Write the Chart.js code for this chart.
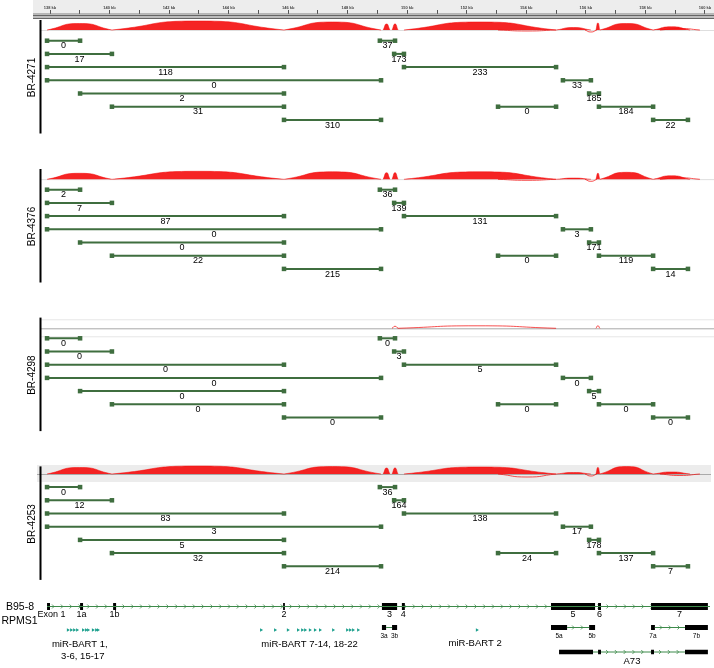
<!DOCTYPE html>
<html>
<head>
<meta charset="utf-8">
<title>BART splice junctions</title>
<script src="https://cdn.jsdelivr.net/npm/chart.js@4.4.1/dist/chart.umd.min.js"></script>
<style>
  html, body { margin: 0; padding: 0; background: #fff; }
  #wrap { width: 714px; height: 668px; position: relative; }
</style>
</head>
<body>
<div id="wrap"><canvas id="chart"></canvas></div>
<script>
(function () {
    'use strict';

    // ---- data: positions in kb on the B95-8 genome ----
    var SAMPLES = ['BR-4271', 'BR-4376', 'BR-4298', 'BR-4253'];
    var RULER_KB = [138, 139, 140, 141, 142, 143, 144, 145, 146, 147, 148, 149, 150,
                    151, 152, 153, 154, 155, 156, 157, 158, 159, 160];

    // splice junctions (same set in every sample), drawn on track rows 0..6
    var JUNC_START = [137.90, 137.90, 137.90, 137.90, 139.01, 140.08, 145.86, 149.08, 149.56, 149.89, 155.23, 156.11, 153.05, 156.44, 158.26];
    var JUNC_END   = [139.01, 140.08, 145.86, 149.12, 145.86, 145.86, 149.12, 149.59, 149.89, 155.00, 156.17, 156.44, 155.00, 158.26, 159.43];
    var JUNC_ROW   = [0, 1, 2, 3, 4, 5, 6, 0, 1, 2, 3, 4, 5, 5, 6];

    var COUNTS_4271 = [0, 17, 118, 0, 2, 31, 310, 37, 173, 233, 33, 185, 0, 184, 22];
    var COUNTS_4376 = [2, 7, 87, 0, 0, 22, 215, 36, 139, 131, 3, 171, 0, 119, 14];
    var COUNTS_4298 = [0, 0, 0, 0, 0, 0, 0, 0, 3, 5, 0, 5, 0, 0, 0];
    var COUNTS_4253 = [0, 12, 83, 3, 5, 32, 214, 36, 164, 138, 17, 178, 24, 137, 7];
    var COUNTS = [COUNTS_4271, COUNTS_4376, COUNTS_4298, COUNTS_4253];

    // sashimi arcs (filled), heights per sample
    var ARC_START = [137.90, 140.08, 145.86, 149.19, 149.49, 149.89, 155.00, 156.34, 156.47, 158.26];
    var ARC_END   = [140.08, 145.86, 149.12, 149.42, 149.69, 155.00, 156.17, 156.47, 158.26, 159.50];
    var ARC_H_4271 = [6.5, 9, 8, 6, 6, 8, 2.5, 7, 6.5, 3.2];
    var ARC_H_4376 = [6, 8, 7.5, 6.5, 6.5, 7.5, 1.2, 6, 7, 3.5];
    var ARC_H_4298 = [0, 0, 0, 0, 0, 0, 0, 0, 0, 0];
    var ARC_H_4253 = [6.5, 8, 7.5, 6, 6, 7, 1.5, 6.5, 7.5, 2];
    var ARC_H = [ARC_H_4271, ARC_H_4376, ARC_H_4298, ARC_H_4253];

    // thin outline arcs (negative = below the baseline)
    var OUT_START = [149.49, 149.69, 153.05, 155.97, 156.34, 158.49];
    var OUT_END   = [149.69, 155.00, 155.00, 156.37, 156.47, 159.83];
    var OUT_H_4271 = [0, 0, -1, -2, 0, 1.5];
    var OUT_H_4376 = [0, 0, -1, -2, 0, 1.5];
    var OUT_H_4298 = [2, 2.5, 0, 0, 2.5, 0];
    var OUT_H_4253 = [0, 0, -3, -2, 0, -1.5];
    var OUT_H = [OUT_H_4271, OUT_H_4376, OUT_H_4298, OUT_H_4253];

    // RPMS1 gene model
    var GENE_START = 137.90, GENE_END = 160.17;
    var EXON_NAMES = ['Exon 1', '1a', '1b', '2', '3', '4', '5', '6', '7'];
    var EXON_START = [137.90, 139.01, 140.12, 145.83, 149.15, 149.82, 154.83, 156.41, 158.19];
    var EXON_END   = [138.00, 139.11, 140.22, 145.89, 149.66, 149.92, 156.31, 156.51, 160.10];

    var ALT_NAMES = ['3a', '3b', '5a', '5b', '7a', '7b'];
    var ALT_START = [149.15, 149.49, 154.83, 156.11, 158.19, 159.33];
    var ALT_END   = [149.29, 149.66, 155.37, 156.31, 158.32, 160.10];

    var A73_START = [155.10, 156.41, 158.19, 159.33];
    var A73_END   = [156.24, 156.51, 158.29, 160.10];

    var MIR_CLUSTER1 = [138.60, 138.71, 138.81, 138.91, 139.11, 139.21, 139.28, 139.44, 139.55, 139.61];
    var MIR_CLUSTER2 = [145.09, 145.56, 145.99, 146.33, 146.47, 146.57, 146.73, 146.90, 147.07, 147.51, 147.98, 148.08, 148.18, 148.35];
    var MIR_BART2 = [152.34];

    // ---- layout ----
    var X_MIN = 136.32, X_MAX = 160.305;
    var PANEL_SHIFT = [0, 149, 297.6, 446.4];
    var BASELINE = [30, 179.3, 328.3, 474];
    var TRACK_STYLE = ['line', 'line', 'bands', 'box'];
    var ROW0 = 40.7, ROW_STEP = 13.2;
    var GENE_Y = 606.5, ALT_Y = 627.5, MIR_Y = 630, A73_Y = 652;

    var GREEN = '#3f6e3f';
    var RED = 'rgba(244, 12, 12, 0.9)';
    var TEAL = '#1a9f8c';
    var INTRON = '#3d8a4a';
    var FONT = '"Liberation Sans", Arial, Helvetica, sans-serif';

    var datasets = [];

    function bar(x1, x2, y, color, width) {
        datasets.push({
            data: [{ x: x1, y: y }, { x: x2, y: y }],
            borderColor: color, borderWidth: width, borderCapStyle: 'butt',
            pointRadius: 0, fill: false
        });
    }

    function arc(s, e, base, h, filled) {
        datasets.push({
            data: [{ x: s, y: base }, { x: (s + e) / 2, y: base - h }, { x: e, y: base }],
            tension: 0.6,
            capBezierPoints: false,
            borderColor: RED,
            borderWidth: filled ? 0.6 : 0.8,
            backgroundColor: RED,
            fill: filled ? { value: base } : false,
            pointRadius: 0
        });
    }

    // sashimi arcs
    SAMPLES.forEach(function (name, p) {
        ARC_START.forEach(function (s, i) {
            if (ARC_H[p][i]) { arc(s, ARC_END[i], BASELINE[p], ARC_H[p][i], true); }
        });
        OUT_START.forEach(function (s, i) {
            if (OUT_H[p][i]) { arc(s, OUT_END[i], BASELINE[p], OUT_H[p][i], false); }
        });
    });

    // junctions
    var junctionLabels = [];
    SAMPLES.forEach(function (name, p) {
        JUNC_START.forEach(function (s, j) {
            var y = ROW0 + PANEL_SHIFT[p] + JUNC_ROW[j] * ROW_STEP;
            datasets.push({
                data: [{ x: s, y: y }, { x: JUNC_END[j], y: y }],
                borderColor: GREEN, borderWidth: 2,
                pointStyle: 'rect', pointRadius: 3.2,
                pointBackgroundColor: GREEN, pointBorderWidth: 0,
                fill: false
            });
            junctionLabels.push({ x: (s + JUNC_END[j]) / 2, y: y, text: String(COUNTS[p][j]) });
        });
    });

    // gene model
    bar(GENE_START, GENE_END, GENE_Y, INTRON, 1);
    EXON_START.forEach(function (s, i) { bar(s, EXON_END[i], GENE_Y, '#000', 7); });

    bar(ALT_END[0], ALT_START[1], ALT_Y, INTRON, 1);
    bar(ALT_END[2], ALT_START[3], ALT_Y, INTRON, 1);
    bar(ALT_END[4], ALT_START[5], ALT_Y, INTRON, 1);
    ALT_START.forEach(function (s, i) { bar(s, ALT_END[i], ALT_Y, '#000', 5); });

    bar(A73_END[0], A73_START[1], A73_Y, INTRON, 1);
    bar(A73_END[1], A73_START[2], A73_Y, INTRON, 1);
    bar(A73_END[2], A73_START[3], A73_Y, INTRON, 1);
    A73_START.forEach(function (s, i) { bar(s, A73_END[i], A73_Y, '#000', 4.5); });

    datasets.push({
        data: MIR_CLUSTER1.concat(MIR_CLUSTER2, MIR_BART2).map(function (v) { return { x: v, y: MIR_Y }; }),
        showLine: false, pointStyle: 'triangle', rotation: 90, pointRadius: 2,
        pointBackgroundColor: TEAL, pointBorderColor: TEAL, pointBorderWidth: 0
    });

    // intron segments that get strand arrows
    var INTRONS = [
        [GENE_START, GENE_END, GENE_Y],
        [ALT_END[2], ALT_START[3], ALT_Y],
        [ALT_END[4], ALT_START[5], ALT_Y],
        [A73_END[1], A73_START[2], A73_Y],
        [A73_END[2], A73_START[3], A73_Y]
    ];

    var decor = {
        id: 'decor',
        beforeDraw: function (chart) {
            var c = chart.ctx;
            c.save();
            c.fillStyle = '#fff';
            c.fillRect(0, 0, chart.width, chart.height);
            c.fillStyle = '#ededed';
            c.fillRect(33, 0, chart.width - 33, 13.5);
            c.restore();
        },
        beforeDatasetsDraw: function (chart) {
            var c = chart.ctx, xs = chart.scales.x, ys = chart.scales.y, W = chart.width;
            c.save();
            // rule under the ruler
            c.fillStyle = '#777';
            c.fillRect(33, ys.getPixelForValue(13.5), W - 33, 1);
            c.fillStyle = '#bdbdbd';
            c.fillRect(33, ys.getPixelForValue(15), W - 33, 3.5);
            c.fillStyle = '#666';
            c.fillRect(33, ys.getPixelForValue(15), W - 33, 1);
            c.fillRect(33, ys.getPixelForValue(18), W - 33, 1);

            SAMPLES.forEach(function (name, p) {
                var b = ys.getPixelForValue(BASELINE[p]);
                var st = TRACK_STYLE[p];
                if (st === 'box') {
                    c.fillStyle = '#ececec';
                    c.fillRect(37, b - 9, W - 40, 17);
                    c.fillStyle = '#9a9a9a';
                    c.fillRect(37, b, W - 40, 0.8);
                } else if (st === 'bands') {
                    c.fillStyle = '#e6e6e6';
                    c.fillRect(40, b - 9, W - 40, 1);
                    c.fillRect(40, b + 8, W - 40, 1);
                    c.fillStyle = '#a8a8a8';
                    c.fillRect(40, b, W - 40, 1);
                } else {
                    c.fillStyle = '#d6d6d6';
                    c.fillRect(41, b, W - 41, 0.8);
                }
                var top = ys.getPixelForValue(PANEL_SHIFT[p] + 20);
                var bot = ys.getPixelForValue(PANEL_SHIFT[p] + 133.5);
                c.fillStyle = '#000';
                c.fillRect(39.5, top, 2, bot - top);
            });

            // strand arrows on introns
            c.strokeStyle = INTRON;
            c.lineWidth = 0.8;
            INTRONS.forEach(function (seg) {
                var x1 = xs.getPixelForValue(seg[0]), x2 = xs.getPixelForValue(seg[1]);
                var y = ys.getPixelForValue(seg[2]);
                c.beginPath();
                for (var px = x1 + 6; px < x2 - 3; px += 8.8) {
                    c.moveTo(px - 1, y - 2);
                    c.lineTo(px + 1, y);
                    c.lineTo(px - 1, y + 2);
                }
                c.stroke();
            });
            c.restore();
        },
        afterDatasetsDraw: function (chart) {
            var c = chart.ctx, xs = chart.scales.x, ys = chart.scales.y;
            c.save();
            c.fillStyle = '#000';
            c.textAlign = 'center';
            c.textBaseline = 'middle';

            // junction read counts
            c.font = '9px ' + FONT;
            junctionLabels.forEach(function (l) {
                c.fillText(l.text, xs.getPixelForValue(l.x), ys.getPixelForValue(l.y) + 5.2);
            });

            // sample names
            c.font = '10px ' + FONT;
            SAMPLES.forEach(function (name, p) {
                c.save();
                c.translate(32, ys.getPixelForValue(PANEL_SHIFT[p] + 77.5));
                c.rotate(-Math.PI / 2);
                c.fillText(name, 0, 0);
                c.restore();
            });

            // gene track
            c.font = '10.5px ' + FONT;
            c.fillText('B95-8', 20, ys.getPixelForValue(607.5));
            c.fillText('RPMS1', 19.5, ys.getPixelForValue(621.5));

            c.font = '9px ' + FONT;
            EXON_NAMES.forEach(function (n, i) {
                var x = xs.getPixelForValue((EXON_START[i] + EXON_END[i]) / 2);
                if (i === 0) { x += 3; }
                c.fillText(n, x, ys.getPixelForValue(GENE_Y + 8));
            });

            c.font = '6.5px ' + FONT;
            ALT_NAMES.forEach(function (n, i) {
                c.fillText(n, xs.getPixelForValue((ALT_START[i] + ALT_END[i]) / 2), ys.getPixelForValue(ALT_Y + 8.5));
            });

            c.font = '9.5px ' + FONT;
            c.fillText('miR-BART 1,', xs.getPixelForValue(139.0), ys.getPixelForValue(644));
            c.fillText('3-6, 15-17', xs.getPixelForValue(139.1), ys.getPixelForValue(656));
            c.fillText('miR-BART 7-14, 18-22', xs.getPixelForValue(146.72), ys.getPixelForValue(644));
            c.fillText('miR-BART 2', xs.getPixelForValue(152.28), ys.getPixelForValue(643));
            c.fillText('A73', xs.getPixelForValue(157.55), ys.getPixelForValue(661));
            c.restore();
        }
    };

    new Chart(document.getElementById('chart'), {
        type: 'line',
        data: { datasets: datasets },
        options: {
            responsive: true,
            maintainAspectRatio: false,
            animation: false,
            events: [],
            layout: { padding: 0, autoPadding: false },
            plugins: { legend: { display: false }, tooltip: { enabled: false } },
            scales: {
                x: {
                    type: 'linear',
                    position: 'top',
                    min: X_MIN,
                    max: X_MAX,
                    afterBuildTicks: function (s) {
                        s.ticks = RULER_KB.map(function (v) { return { value: v }; });
                    },
                    afterFit: function (s) { s.height = 14; },
                    ticks: {
                        autoSkip: false,
                        maxRotation: 0,
                        padding: 0,
                        color: '#444',
                        font: { size: 4, family: FONT, weight: 'bold' },
                        callback: function (v) { return v % 2 === 0 ? v + ' kb' : ''; }
                    },
                    grid: { drawOnChartArea: false, tickLength: 4, color: '#555', lineWidth: 1 },
                    border: { display: false }
                },
                y: {
                    type: 'linear',
                    display: false,
                    reverse: true,
                    min: 14,
                    max: 668
                }
            }
        },
        plugins: [decor]
    });
})();
</script>
</body>
</html>
